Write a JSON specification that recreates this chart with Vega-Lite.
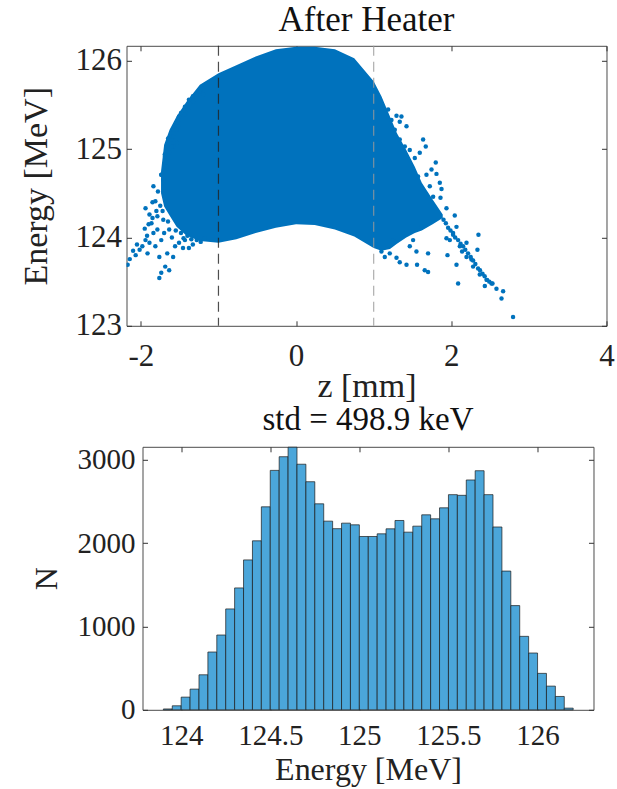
{
  "$schema": "https://vega.github.io/schema/vega-lite/v6.json",
  "padding": {"left": 18.5, "top": 1.8, "right": 0, "bottom": 0},
  "background": "white",
  "config": {
    "font": "Liberation Serif",
    "view": {"stroke": "#4a4a4a", "strokeWidth": 1},
    "axis": {
      "grid": false, "domain": false, "minExtent": 0, "maxExtent": 500,
      "labelFont": "Liberation Serif", "titleFont": "Liberation Serif",
      "labelFontSize": 30, "titleFontSize": 31, "titleFontWeight": "normal",
      "labelColor": "#222222", "titleColor": "#222222", "tickColor": "#333333",
      "tickSize": -5, "labelFlush": false, "labelOverlap": false,
      "labelExpr": "'' + datum.value"
    },
    "title": {"font": "Liberation Serif", "fontSize": 33, "fontWeight": "normal", "color": "#111111", "anchor": "middle", "frame": "group"}
  },
  "datasets": {
    "blob": [
      {"z": -1.74, "hi": 124.75, "lo": 124.50},
      {"z": -1.70, "hi": 125.05, "lo": 124.35},
      {"z": -1.63, "hi": 125.22, "lo": 124.25},
      {"z": -1.54, "hi": 125.37, "lo": 124.12},
      {"z": -1.41, "hi": 125.54, "lo": 124.02},
      {"z": -1.24, "hi": 125.73, "lo": 123.96},
      {"z": -1.00, "hi": 125.86, "lo": 123.94},
      {"z": -0.77, "hi": 125.95, "lo": 123.98},
      {"z": -0.52, "hi": 126.05, "lo": 124.05},
      {"z": -0.26, "hi": 126.13, "lo": 124.11},
      {"z": 0.00, "hi": 126.16, "lo": 124.15},
      {"z": 0.24, "hi": 126.16, "lo": 124.14},
      {"z": 0.50, "hi": 126.13, "lo": 124.09},
      {"z": 0.75, "hi": 126.03, "lo": 124.01},
      {"z": 1.00, "hi": 125.77, "lo": 123.88},
      {"z": 1.10, "hi": 125.60, "lo": 123.85},
      {"z": 1.21, "hi": 125.37, "lo": 123.87},
      {"z": 1.30, "hi": 125.18, "lo": 123.93},
      {"z": 1.42, "hi": 124.99, "lo": 124.00},
      {"z": 1.53, "hi": 124.80, "lo": 124.05},
      {"z": 1.62, "hi": 124.62, "lo": 124.08},
      {"z": 1.76, "hi": 124.43, "lo": 124.15},
      {"z": 1.89, "hi": 124.26, "lo": 124.22}
    ],
    "pts": [
      {"z": -2.17, "E": 123.69}, {"z": -2.143, "E": 123.755}, {"z": -2.067, "E": 123.80}, {"z": -2.016, "E": 123.86},
      {"z": -1.981, "E": 123.90}, {"z": -1.94, "E": 123.97}, {"z": -1.889, "E": 123.94}, {"z": -1.914, "E": 123.82},
      {"z": -1.838, "E": 124.05}, {"z": -1.813, "E": 123.90}, {"z": -1.787, "E": 124.09}, {"z": -1.762, "E": 123.78},
      {"z": -1.737, "E": 123.97}, {"z": -1.711, "E": 124.20}, {"z": -1.762, "E": 123.54}, {"z": -1.737, "E": 123.60},
      {"z": -1.686, "E": 123.67}, {"z": -1.635, "E": 123.63}, {"z": -1.66, "E": 123.82}, {"z": -1.584, "E": 123.78},
      {"z": -1.559, "E": 123.90}, {"z": -1.508, "E": 123.94}, {"z": -1.457, "E": 123.88}, {"z": -1.432, "E": 123.97},
      {"z": -1.381, "E": 123.88}, {"z": -1.33, "E": 123.92}, {"z": -1.28, "E": 123.97}, {"z": -1.229, "E": 123.95},
      {"z": -1.178, "E": 123.99}, {"z": -1.94, "E": 124.33}, {"z": -1.889, "E": 124.26}, {"z": -1.838, "E": 124.58},
      {"z": -1.813, "E": 124.41}, {"z": -1.737, "E": 124.71}, {"z": -1.711, "E": 124.65}, {"z": -1.686, "E": 124.92},
      {"z": -1.66, "E": 124.80}, {"z": -1.635, "E": 124.96}, {"z": -1.61, "E": 125.11}, {"z": -1.584, "E": 125.22},
      {"z": -1.533, "E": 125.26}, {"z": -1.508, "E": 125.37}, {"z": -1.483, "E": 125.41}, {"z": -1.432, "E": 125.48},
      {"z": -1.381, "E": 125.56}, {"z": -1.33, "E": 125.60}, {"z": -1.254, "E": 125.65}, {"z": -1.203, "E": 125.69},
      {"z": -1.584, "E": 125.03}, {"z": -1.533, "E": 125.07}, {"z": -1.787, "E": 124.24}, {"z": -1.863, "E": 124.16},
      {"z": -1.635, "E": 124.09}, {"z": -1.483, "E": 124.05},
      {"z": -1.735, "E": 124.71}, {"z": -1.67, "E": 124.80}, {"z": -1.692, "E": 124.94}, {"z": -1.606, "E": 125.03},
      {"z": -1.585, "E": 125.14}, {"z": -1.521, "E": 125.26}, {"z": -1.477, "E": 125.33}, {"z": -1.434, "E": 125.39},
      {"z": -1.392, "E": 125.45}, {"z": -1.327, "E": 125.54}, {"z": -1.284, "E": 125.62}, {"z": -1.241, "E": 125.65},
      {"z": -1.198, "E": 125.62}, {"z": -1.649, "E": 125.12}, {"z": -1.541, "E": 125.22},
      {"z": -1.95, "E": 124.10}, {"z": -1.90, "E": 124.15}, {"z": -1.85, "E": 124.22}, {"z": -1.80, "E": 124.30},
      {"z": -1.75, "E": 124.36}, {"z": -1.70, "E": 124.05}, {"z": -1.65, "E": 124.18}, {"z": -1.60, "E": 124.00},
      {"z": -1.55, "E": 124.08}, {"z": -1.45, "E": 123.99}, {"z": -1.40, "E": 124.02}, {"z": -1.35, "E": 123.98},
      {"z": -1.92, "E": 124.02}, {"z": -2.05, "E": 123.92}, {"z": -2.10, "E": 123.85}, {"z": -1.85, "E": 124.40},
      {"z": -1.78, "E": 124.52}, {"z": -1.72, "E": 124.30},
      {"z": 1.294, "E": 125.377}, {"z": 1.358, "E": 125.37}, {"z": 1.336, "E": 125.31}, {"z": 1.423, "E": 125.26},
      {"z": 1.637, "E": 125.11}, {"z": 1.671, "E": 125.03}, {"z": 1.594, "E": 124.96}, {"z": 1.465, "E": 124.99},
      {"z": 1.80, "E": 124.85}, {"z": 1.745, "E": 124.77}, {"z": 1.809, "E": 124.72}, {"z": 1.68, "E": 124.71},
      {"z": 1.852, "E": 124.62}, {"z": 1.874, "E": 124.55}, {"z": 1.861, "E": 124.45}, {"z": 1.938, "E": 124.33},
      {"z": 2.045, "E": 124.25}, {"z": 2.067, "E": 124.12}, {"z": 1.938, "E": 123.99}, {"z": 2.35, "E": 124.03},
      {"z": 2.337, "E": 123.86}, {"z": 2.139, "E": 123.84}, {"z": 1.951, "E": 123.80}, {"z": 2.067, "E": 123.69},
      {"z": 2.088, "E": 123.48}, {"z": 2.432, "E": 123.45}, {"z": 2.531, "E": 123.48}, {"z": 2.582, "E": 123.42},
      {"z": 2.668, "E": 123.39}, {"z": 2.647, "E": 123.31}, {"z": 2.796, "E": 123.10}, {"z": 1.701, "E": 123.61},
      {"z": 1.658, "E": 123.63}, {"z": 1.559, "E": 123.69}, {"z": 1.423, "E": 123.69}, {"z": 1.336, "E": 123.72},
      {"z": 1.294, "E": 123.77}, {"z": 1.207, "E": 123.82}, {"z": 1.143, "E": 123.78}, {"z": 1.10, "E": 123.84},
      {"z": 1.551, "E": 123.84}, {"z": 1.465, "E": 123.90}, {"z": 1.701, "E": 123.82}, {"z": 1.508, "E": 123.97},
      {"z": 1.616, "E": 124.12}, {"z": 1.379, "E": 124.05}, {"z": 1.25, "E": 123.97}, {"z": 2.11, "E": 123.90},
      {"z": 2.196, "E": 123.78}, {"z": 2.281, "E": 123.67}, {"z": 2.367, "E": 123.58}, {"z": 2.454, "E": 123.52},
      {"z": 1.981, "E": 123.97}, {"z": 2.023, "E": 124.05}, {"z": 2.196, "E": 123.94}, {"z": 2.26, "E": 123.75},
      {"z": 1.959, "E": 124.11}, {"z": 2.023, "E": 124.03}, {"z": 2.088, "E": 123.97}, {"z": 2.152, "E": 123.90},
      {"z": 2.216, "E": 123.82}, {"z": 2.281, "E": 123.74}, {"z": 2.345, "E": 123.65}, {"z": 2.402, "E": 123.59},
      {"z": 2.461, "E": 123.52}, {"z": 2.518, "E": 123.48},
      {"z": 1.90, "E": 124.20}, {"z": 1.93, "E": 124.16}, {"z": 1.99, "E": 124.08}, {"z": 2.05, "E": 124.00},
      {"z": 2.12, "E": 123.93}, {"z": 2.18, "E": 123.86}, {"z": 2.25, "E": 123.78}, {"z": 2.31, "E": 123.70},
      {"z": 2.37, "E": 123.63}, {"z": 2.43, "E": 123.56}, {"z": 2.49, "E": 123.50},
      {"z": 1.186, "E": 125.45}, {"z": 1.229, "E": 125.33}, {"z": 1.272, "E": 125.22}, {"z": 1.336, "E": 125.11},
      {"z": 1.401, "E": 125.03}, {"z": 1.53, "E": 124.90}, {"z": 1.572, "E": 124.69}, {"z": 1.723, "E": 124.58},
      {"z": 1.766, "E": 124.46}
    ],
    "vlines": [
      {"z": -1, "s": "a"},
      {"z": 1, "s": "b"}
    ],
    "hist": [
      {"b0": 123.90, "b1": 123.95, "n": 10}, {"b0": 123.95, "b1": 124.00, "n": 48},
      {"b0": 124.00, "b1": 124.05, "n": 152}, {"b0": 124.05, "b1": 124.10, "n": 248},
      {"b0": 124.10, "b1": 124.15, "n": 420}, {"b0": 124.15, "b1": 124.20, "n": 693},
      {"b0": 124.20, "b1": 124.25, "n": 897}, {"b0": 124.25, "b1": 124.30, "n": 1210},
      {"b0": 124.30, "b1": 124.35, "n": 1462}, {"b0": 124.35, "b1": 124.40, "n": 1798},
      {"b0": 124.40, "b1": 124.45, "n": 2027}, {"b0": 124.45, "b1": 124.50, "n": 2435},
      {"b0": 124.50, "b1": 124.55, "n": 2872}, {"b0": 124.55, "b1": 124.60, "n": 3036},
      {"b0": 124.60, "b1": 124.65, "n": 3150}, {"b0": 124.65, "b1": 124.70, "n": 2946},
      {"b0": 124.70, "b1": 124.75, "n": 2736}, {"b0": 124.75, "b1": 124.80, "n": 2471},
      {"b0": 124.80, "b1": 124.85, "n": 2263}, {"b0": 124.85, "b1": 124.90, "n": 2173},
      {"b0": 124.90, "b1": 124.95, "n": 2239}, {"b0": 124.95, "b1": 125.00, "n": 2219},
      {"b0": 125.00, "b1": 125.05, "n": 2079}, {"b0": 125.05, "b1": 125.10, "n": 2079},
      {"b0": 125.10, "b1": 125.15, "n": 2111}, {"b0": 125.15, "b1": 125.20, "n": 2171},
      {"b0": 125.20, "b1": 125.25, "n": 2271}, {"b0": 125.25, "b1": 125.30, "n": 2131},
      {"b0": 125.30, "b1": 125.35, "n": 2203}, {"b0": 125.35, "b1": 125.40, "n": 2339},
      {"b0": 125.40, "b1": 125.45, "n": 2291}, {"b0": 125.45, "b1": 125.50, "n": 2423},
      {"b0": 125.50, "b1": 125.55, "n": 2581}, {"b0": 125.55, "b1": 125.60, "n": 2573},
      {"b0": 125.60, "b1": 125.65, "n": 2757}, {"b0": 125.65, "b1": 125.70, "n": 2868},
      {"b0": 125.70, "b1": 125.75, "n": 2581}, {"b0": 125.75, "b1": 125.80, "n": 2193},
      {"b0": 125.80, "b1": 125.85, "n": 1664}, {"b0": 125.85, "b1": 125.90, "n": 1250},
      {"b0": 125.90, "b1": 125.95, "n": 881}, {"b0": 125.95, "b1": 126.00, "n": 681},
      {"b0": 126.00, "b1": 126.05, "n": 437}, {"b0": 126.05, "b1": 126.10, "n": 284},
      {"b0": 126.10, "b1": 126.15, "n": 160}, {"b0": 126.15, "b1": 126.20, "n": 20}
    ]
  },
  "vconcat": [
    {
      "width": 480,
      "height": 280,
      "title": {"text": "After Heater", "baseline": "alphabetic", "offset": 0, "dy": 21.2, "fontSize": 35},
      "layer": [
        {
          "data": {"name": "blob"},
          "mark": {"type": "area", "color": "#0072BD", "interpolate": "linear", "clip": true},
          "encoding": {
            "x": {"field": "z", "type": "quantitative",
                  "scale": {"domain": [-2.185, 4], "nice": false, "zero": false},
                  "axis": {"orient": "bottom", "values": [-2, 0, 2, 4], "title": "z [mm]",
                           "labelFontSize": 31, "titleFontSize": 34,
                           "labelBaseline": "alphabetic", "labelPadding": 45,
                           "titleY": 71, "titleBaseline": "alphabetic"}},
            "y": {"field": "hi", "type": "quantitative",
                  "scale": {"domain": [123, 126.17], "nice": false, "zero": false},
                  "axis": {"orient": "left", "values": [123, 124, 125, 126], "title": "Energy [MeV]",
                           "labelFontSize": 31, "titleFontSize": 34,
                           "labelPadding": 10, "labelBaseline": "middle",
                           "titleX": -80, "titleY": 140, "titleAngle": -90, "titleAlign": "center", "titleBaseline": "alphabetic"}},
            "y2": {"field": "lo"}
          }
        },
        {
          "data": {"name": "pts"},
          "mark": {"type": "circle", "color": "#0072BD", "size": 20, "opacity": 1, "clip": true},
          "encoding": {
            "x": {"field": "z", "type": "quantitative",
                  "axis": {"orient": "top", "values": [-2, 0, 2, 4], "labels": false, "title": null}},
            "y": {"field": "E", "type": "quantitative",
                  "axis": {"orient": "right", "values": [123, 124, 125, 126], "labels": false, "title": null}}
          }
        },
        {
          "data": {"name": "vlines"},
          "mark": {"type": "rule", "strokeDash": [10, 6], "strokeWidth": 1.2, "opacity": 0.8},
          "encoding": {
            "x": {"field": "z", "type": "quantitative", "axis": null},
            "color": {"field": "s", "type": "nominal", "scale": {"domain": ["a", "b"], "range": ["#222222", "#9a9a9a"]}, "legend": null}
          }
        }
      ],
      "resolve": {"axis": {"x": "independent", "y": "independent"}}
    },
    {
      "hconcat": [
        {
          "width": 16,
          "height": 20,
          "data": {"values": [{"k": 0}]},
          "mark": {"type": "text"},
          "encoding": {"text": {"value": ""}},
          "view": {"stroke": null}
        },
        {
          "width": 451,
          "height": 263,
          "title": {"text": "std = 498.9 keV", "baseline": "alphabetic", "offset": 0, "dy": 17.4, "fontSize": 33},
          "data": {"name": "hist"},
          "layer": [
            {
              "mark": {"type": "rect", "fill": "#4ba6da", "stroke": "#1a1a1a", "strokeWidth": 0.7},
              "encoding": {
                "x": {"field": "b0", "type": "quantitative",
                      "scale": {"domain": [123.783, 126.314], "nice": false, "zero": false},
                      "axis": {"orient": "bottom", "values": [124, 124.5, 125, 125.5, 126], "title": "Energy [MeV]",
                               "labelFontSize": 29, "titleFontSize": 32,
                               "labelBaseline": "alphabetic", "labelPadding": 40,
                               "titleY": 70, "titleBaseline": "alphabetic"}},
                "x2": {"field": "b1"},
                "y": {"field": "n", "type": "quantitative",
                      "scale": {"domain": [0, 3155], "nice": false},
                      "axis": {"orient": "left", "values": [0, 1000, 2000, 3000], "title": "N",
                               "labelFontSize": 29, "titleFontSize": 32,
                               "labelPadding": 12.5, "labelBaseline": "middle",
                               "titleX": -86, "titleY": 131.5, "titleAngle": -90, "titleAlign": "center", "titleBaseline": "alphabetic"}},
                "y2": {"datum": 0}
              }
            },
            {
              "mark": {"type": "rect", "opacity": 0},
              "encoding": {
                "x": {"field": "b0", "type": "quantitative",
                      "axis": {"orient": "top", "values": [124, 124.5, 125, 125.5, 126], "labels": false, "title": null}},
                "x2": {"field": "b1"},
                "y": {"field": "n", "type": "quantitative",
                      "axis": {"orient": "right", "values": [0, 1000, 2000, 3000], "labels": false, "title": null}},
                "y2": {"datum": 0}
              }
            }
          ],
          "resolve": {"axis": {"x": "independent", "y": "independent"}}
        }
      ],
      "bounds": "flush",
      "spacing": 0
    }
  ],
  "spacing": -2
}
